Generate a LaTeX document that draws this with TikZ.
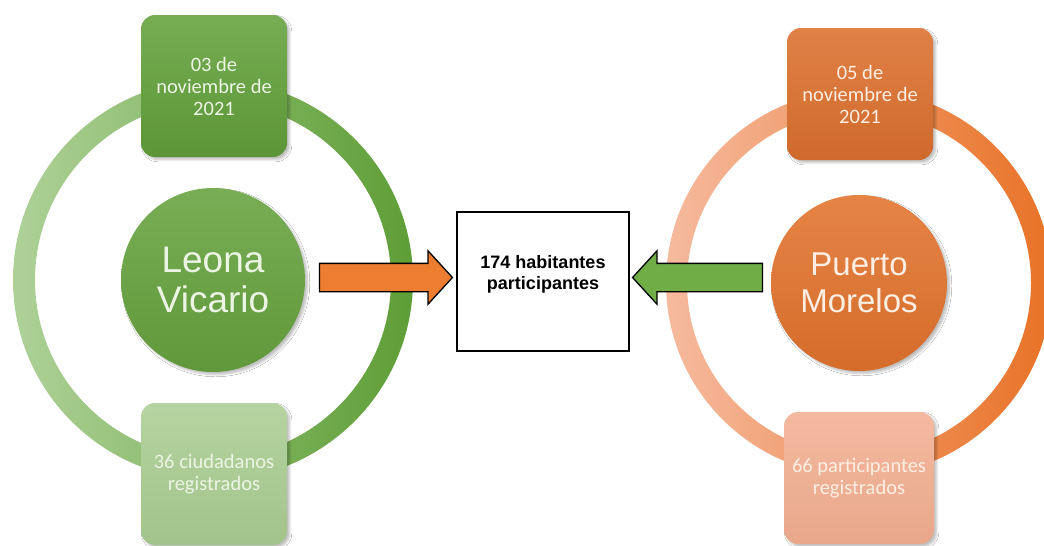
\documentclass[tikz,border=0pt]{standalone}
\usepackage{fontspec}
\setmainfont{Liberation Sans}
\newfontfamily\carlito{Carlito}
\usetikzlibrary{positioning,shapes.arrows,shadows.blur}
\definecolor{lvRingA}{RGB}{174,209,152}
\definecolor{lvRingB}{RGB}{94,158,54}
\definecolor{lvHub}{RGB}{102,162,62}
\definecolor{lvTop}{RGB}{100,162,60}
\definecolor{lvLow}{RGB}{168,204,144}
\definecolor{lvText}{RGB}{236,244,228}
\definecolor{pmRingA}{RGB}{246,186,158}
\definecolor{pmRingB}{RGB}{232,114,38}
\definecolor{pmHub}{RGB}{226,115,45}
\definecolor{pmTop}{RGB}{221,112,46}
\definecolor{pmLow}{RGB}{242,174,144}
\definecolor{pmText}{RGB}{252,238,226}
\definecolor{arrOrange}{RGB}{237,125,49}
\definecolor{arrGreen}{RGB}{112,173,71}

\begin{document}
\begin{tikzpicture}[x=1pt,y=-1pt,
  hub/.style={circle,inner sep=0pt,minimum size=184pt,align=center,
              font=\fontsize{37}{40}\selectfont,
              blur shadow={shadow blur steps=5,shadow opacity=25}},
  tag/.style={rounded corners=14pt,minimum width=146pt,minimum height=142pt,
              align=center,font=\carlito\fontsize{20.5}{22}\selectfont,
              blur shadow={shadow blur steps=5,shadow opacity=25}},
  blk/.style={single arrow,draw=black,line width=1.3pt,inner xsep=0pt,inner ysep=13.5pt,
              minimum height=133pt,
              single arrow head extend=12.5pt,single arrow tip angle=95}]
\useasboundingbox (0,0) rectangle (1044,546);
\clip (0,0) rectangle (1044,546);
\fill[white] (0,0) rectangle (1044,546);

% Leona Vicario
\coordinate (leonaC) at (213,280);
\shade[left color=lvRingA,right color=lvRingB,even odd rule]
  (leonaC) circle (200pt) (leonaC) circle (178pt);
\node[tag,top color=lvTop!88!white,bottom color=lvTop!92!black,text=lvText]
  (leonaDate) at (214,86) {03 de\\noviembre de\\2021};
\node[tag,top color=lvLow!85!white,bottom color=lvLow!96!black,text=lvText]
  (leonaReg) at (214,474) {36 ciudadanos\\registrados};
\node[hub,top color=lvHub!88!white,bottom color=lvHub!94!black,text=lvText]
  (leona) at (leonaC) {Leona\\Vicario};

% Puerto Morelos
\coordinate (puertoC) at (859,283);
\shade[left color=pmRingA,right color=pmRingB,even odd rule]
  (puertoC) circle (193pt) (puertoC) circle (172pt);
\node[tag,minimum height=132pt,top color=pmTop!88!white,bottom color=pmTop!94!black,text=pmText]
  (puertoDate) at (860,94) {05 de\\noviembre de\\2021};
\node[tag,minimum height=132pt,minimum width=150pt,top color=pmLow!85!white,bottom color=pmLow!96!black,text=pmText]
  (puertoReg) at (859,478) {66 participantes\\registrados};
\node[hub,minimum size=176pt,font=\fontsize{33}{37}\selectfont,
      top color=pmHub!88!white,bottom color=pmHub!94!black,text=pmText]
  (puerto) at (puertoC) {Puerto\\Morelos};

% total
\node[draw=black,line width=1.3pt,fill=white,minimum width=172pt,minimum height=139pt]
  (total) at (543,281.5) {};
\node[font=\bfseries\fontsize{18}{21}\selectfont,align=center]
  (totalTxt) at ([yshift=7pt]total.center) {174 habitantes\\participantes};

\node[blk,fill=arrOrange,left=3pt of total,yshift=4pt] (toTotalL) {};
\node[blk,fill=arrGreen,minimum height=130pt,shape border rotate=180,
      right=2pt of total,yshift=4pt] (toTotalR) {};
\end{tikzpicture}
\end{document}
